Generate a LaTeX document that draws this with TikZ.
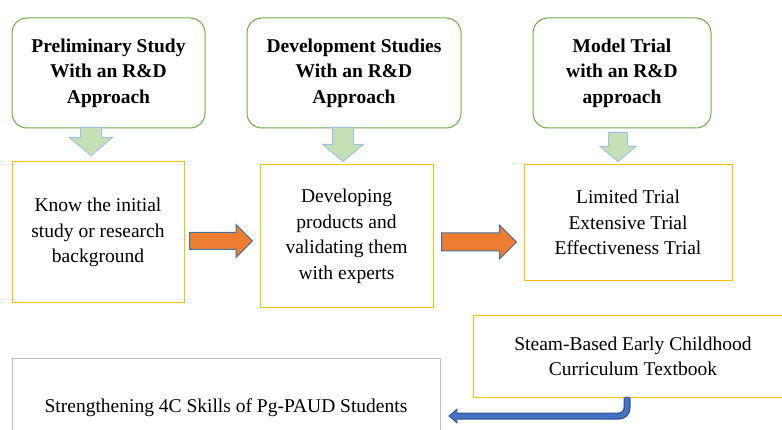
\documentclass[tikz,border=0pt]{standalone}
\usepackage{fontspec}
\setmainfont{Liberation Serif}
\usetikzlibrary{arrows.meta,positioning,shapes.arrows}

\definecolor{boxgreen}{HTML}{70AD47}
\definecolor{boxgold}{HTML}{FFC000}
\definecolor{boxgray}{HTML}{BFBFBF}
\definecolor{arrowgreen}{HTML}{C5E0B4}
\definecolor{arrowedge}{HTML}{9DC3E6}
\definecolor{arroworange}{HTML}{ED7D31}
\definecolor{navyedge}{HTML}{41719C}
\definecolor{pipeblue}{HTML}{4472C4}
\definecolor{pipeedge}{HTML}{2F528F}

\begin{document}
\begin{tikzpicture}[
  x=1pt, y=-1pt,
  font=\fontsize{19.5}{25.5}\selectfont,
  stage/.style={draw=boxgreen, line width=1pt, rounded corners=15pt, align=center, minimum height=110pt, font=\fontsize{19.5}{25.5}\selectfont\bfseries},
  task/.style={draw=boxgold, line width=1pt, align=center},
  result/.style={draw=boxgray, line width=0.8pt, align=center},
  down/.style={single arrow, shape border rotate=270, fill=arrowgreen, draw=arrowedge, line width=1pt, inner sep=0pt, single arrow tip angle=100, anchor=tail},
  push/.style={single arrow, fill=arroworange, draw=navyedge, line width=1pt, inner sep=0pt, single arrow tip angle=90, single arrow head extend=8pt, anchor=tail},
  pipe/.style={rounded corners=8pt}
]
\useasboundingbox (0,0) rectangle (782,430);
\fill[white] (0,0) rectangle (782,430);
\clip (0,0) rectangle (782,430);

% three stages
\node[stage, minimum width=193pt] (pre) at (108.5,73) {Preliminary Study\\With an R\&D\\Approach};
\node[stage, minimum width=214pt] (dev) at (354,73) {Development Studies\\With an R\&D\\Approach};
\node[stage, minimum width=178pt] (model) at (622,73) {Model Trial\\with an R\&D\\approach};

% what each stage does
\node[task, minimum width=172pt, minimum height=141pt] (know) at (98,232.5) {Know the initial\\study or research\\background};
\node[task, minimum width=173pt, minimum height=143pt] (prod) at (346.5,236.5) {Developing\\products and\\validating them\\with experts};
\node[task, minimum width=208pt, minimum height=116pt] (trial) at (628,222.5) {Limited Trial\\Extensive Trial\\Effectiveness Trial};

% outcome boxes
\node[task, minimum width=320pt, minimum height=81pt] (steam) at (633,356.5) {Steam-Based Early Childhood\\Curriculum Textbook};
\node[result, minimum width=428pt, minimum height=100pt] (strength) at (226,408) {Strengthening 4C Skills of Pg-PAUD Students};

% block arrows
\node[down, minimum height=28pt, single arrow head extend=11pt] (g1) at (91,127) {\rule{20pt}{0pt}};
\node[down, minimum height=34pt, single arrow head extend=10pt] (g2) at (343,127) {\rule{20pt}{0pt}};
\node[down, minimum height=29pt, single arrow head extend=8.5pt] (g3) at (618,132) {\rule{18pt}{0pt}};
\node[push, minimum height=63pt] (o1) at (189,241) {\rule{0pt}{16pt}};
\node[push, minimum height=75pt] (o2) at (441,242) {\rule{0pt}{17pt}};

% bent arrow from the textbook to the skills
\draw[pipe, line width=7pt, pipeedge, -{Triangle[length=9pt,width=15pt]}]
  ([xshift=-6pt]steam.south) |- ([xshift=8pt,yshift=-8pt]strength.east);
\draw[pipe, line width=4.6pt, pipeblue, shorten >=1.5pt, -{Triangle[length=7pt,width=11pt]}]
  ([xshift=-6pt,yshift=1pt]steam.south) |- ([xshift=8pt,yshift=-8pt]strength.east);
\end{tikzpicture}
\end{document}
